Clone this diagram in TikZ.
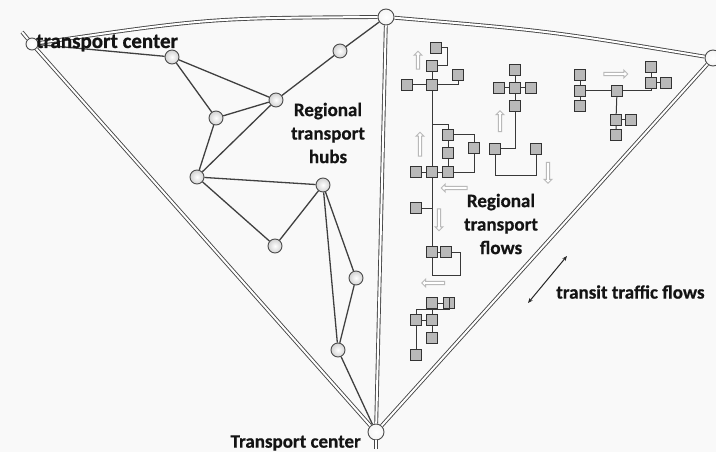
\documentclass[tikz,border=0pt]{standalone}
\usepackage{fontspec}
\setmainfont{Carlito}[BoldFeatures={FakeBold=0.6}]
\usetikzlibrary{shapes.arrows,arrows.meta}

\begin{document}
\begin{tikzpicture}[x=1pt,y=-1pt,
  hub/.style={circle, draw=gray!60!black, line width=0.9pt, inner color=white, outer color=gray!35, minimum size=14pt, inner sep=0pt},
  mainhub/.style={hub, minimum size=16pt, outer color=gray!8},
  road/.style={draw=gray!55!black, double=white, double distance=2pt, line width=0.9pt},
  link/.style={draw=gray!50!black, line width=1.3pt},
  box/.style={rectangle, draw=gray!40!black, fill=gray!55, line width=0.9pt, minimum size=10.5pt, inner sep=0pt},
  wire/.style={draw=gray!45!black, line width=1pt},
  flow/.style={single arrow, draw=gray!55, fill=white, line width=0.9pt, minimum width=8pt, single arrow head extend=2pt, inner sep=0.9pt},
  lbl/.style={font=\bfseries\fontsize{19}{23.5}\selectfont, text=black!92, align=center, inner sep=0pt}
]
\useasboundingbox (0,0) rectangle (716,452);
\fill[gray!5] (0,0) rectangle (716,452);

% transport centers and regional hubs
\node[mainhub, minimum size=12pt] (tl) at (32,44) {};
\node[mainhub] (top) at (386,17) {};
\node[mainhub] (rt) at (713,58) {};
\node[mainhub] (bot) at (376,432) {};
\node[hub] (a) at (172,57) {};
\node[hub] (b) at (340,51) {};
\node[hub] (c) at (276,100) {};
\node[hub] (d) at (216,118) {};
\node[hub] (e) at (197,177) {};
\node[hub] (f) at (323,185) {};
\node[hub] (g) at (275,246) {};
\node[hub] (h) at (356,278) {};
\node[hub] (i) at (338,350) {};

% trunk roads between the transport centers
\coordinate (tlstub) at (22,32);
\coordinate (botstub) at (376,449);
\draw[road] (tl) .. controls (209,18) .. (top);
\draw[road] (top) .. controls (550,31) .. (rt);
\draw[road] (top) -- (bot);
\draw[road] (tl) -- (bot);
\draw[road] (rt) -- (bot);
\draw[road] (tl) -- (tlstub);
\draw[road] (bot) -- (botstub);

% regional network
\draw[link] (tl) -- (a);
\draw[link] (a) -- (c);
\draw[link] (a) -- (d);
\draw[link] (d) -- (c);
\draw[link] (d) -- (e);
\draw[link] (e) -- (c);
\draw[link] (c) -- (b);
\draw[link] (b) -- (top);
\draw[link] (e) -- (f);
\draw[link] (e) -- (g);
\draw[link] (g) -- (f);
\draw[link] (f) -- (h);
\draw[link] (f) -- (i);
\draw[link] (h) -- (i);
\draw[link] (i) -- (bot);

% flow tree along the trunk
\node[box] (p1) at (436,48) {};
\node[box] (p2) at (432,66) {};
\node[box] (p3) at (432,85) {};
\node[box] (p4) at (407,85) {};
\node[box] (p5) at (458,75) {};
\node[box] (q1) at (448,135) {};
\node[box] (q2) at (448,153) {};
\node[box] (q3) at (448,172) {};
\node[box] (q4) at (474,148) {};
\node[box] (r1) at (416,172) {};
\node[box] (r2) at (432,172) {};
\node[box] (r3) at (416,208) {};
\node[box] (t1) at (432,252) {};
\node[box] (t2) at (446,252) {};
\coordinate (j1) at (432,125);
\coordinate (j2) at (432,208);
\draw[wire] (p1.east) -- ++(6,0) |- (p2.east);
\draw[wire] (p2) -- (p3);
\draw[wire] (p4) -- (p3);
\draw[wire] (p3) -| (p5);
\draw[wire] (p3) -- (r2);
\draw[wire] (r2) -- (t1);
\draw[wire] (j1) -| (q1);
\draw[wire] (q1) -- (q2) -- (q3);
\draw[wire] (q1) -| (q4);
\draw[wire] (q4) |- (q3);
\draw[wire] (r1) -- (r2) -- (q3);
\draw[wire] (r3) -- (j2);
\draw[wire] (t1) -- (t2);
\draw[wire] (t1.south) -- ++(0,18) -| ([xshift=9pt]t2.east) -- (t2.east);

% cross-shaped cluster
\node[box] (m0) at (515,88) {};
\node[box] (m1) at (515,70) {};
\node[box] (m2) at (499,88) {};
\node[box] (m3) at (531,88) {};
\node[box] (m4) at (515,106) {};
\node[box] (m5) at (495,149) {};
\node[box] (m6) at (536,149) {};
\draw[wire] (m1) -- (m0) -- (m4);
\draw[wire] (m2) -- (m0) -- (m3);
\draw[wire] (m4) |- (m5);
\draw[wire] (m5.south) -- ++(0,21) -| (m6.south);

% right cluster
\node[box] (n1) at (580,75) {};
\node[box] (n2) at (580,91) {};
\node[box] (n3) at (580,106) {};
\node[box] (n4) at (617,91) {};
\node[box] (n5) at (651,67) {};
\node[box] (n6) at (651,83) {};
\node[box] (n7) at (666,83) {};
\node[box] (n8) at (616,120) {};
\node[box] (n9) at (631,120) {};
\node[box] (n10) at (616,135) {};
\draw[wire] (n1) -- (n2) -- (n3);
\draw[wire] (n2) -- (n4);
\draw[wire] (n4) -| (n6);
\draw[wire] (n5) -- (n6) -- (n7);
\draw[wire] (n4) -- (n8) -- (n10);
\draw[wire] (n8) -- (n9);

% lower cluster
\node[box] (b1) at (416,320) {};
\node[box] (b2) at (432,320) {};
\node[box] (b3) at (432,303) {};
\node[box] (b4) at (449,303) {};
\node[box] (b5) at (432,338) {};
\node[box] (b6) at (416,355) {};
\draw[wire] (b1.north) |- ([yshift=-12pt]b4.north) -- (b4.north);
\draw[wire] (b3) -- (b4);
\draw[wire] (b3) -- (b2);
\draw[wire] (b1) -- (b2) -- (b5);
\draw[wire] (b1) -- (b6);

% direction of regional flows
\node[flow, minimum height=18pt, rotate=90] (fa1) at (418,61) {};
\node[flow, minimum height=24pt, rotate=90] (fa2) at (420,145) {};
\node[flow, minimum height=26pt, rotate=180] (fa3) at (455,188) {};
\node[flow, minimum height=22pt, rotate=-90] (fa4) at (439,219) {};
\node[flow, minimum height=21pt, rotate=90] (fa5) at (500,122) {};
\node[flow, minimum height=21pt, rotate=-90] (fa6) at (548,172) {};
\node[flow, minimum height=24pt] (fa7) at (615,74) {};
\node[flow, minimum height=23pt, rotate=180] (fa8) at (434,283) {};

% transit flow marker
\coordinate (tr1) at (528,303);
\coordinate (tr2) at (567,256);
\draw[{Stealth[open,length=5pt,width=4pt]}-{Stealth[open,length=5pt,width=4pt]}, gray!30!black, line width=1pt] (tr1) -- (tr2);

% labels
\node[lbl, anchor=base west, font=\bfseries\fontsize{21}{24}\selectfont] (ltl) at (36,48) {transport center};
\node[lbl] (lhubs) at (328,133) {Regional\\transport\\hubs};
\node[lbl] (lflows) at (501,224) {Regional\\transport\\flows};
\node[lbl, anchor=west] (ltransit) at (556,292) {transit traffic flows};
\node[lbl, anchor=east] (lbot) at (361,443) {Transport center};
\end{tikzpicture}
\end{document}
